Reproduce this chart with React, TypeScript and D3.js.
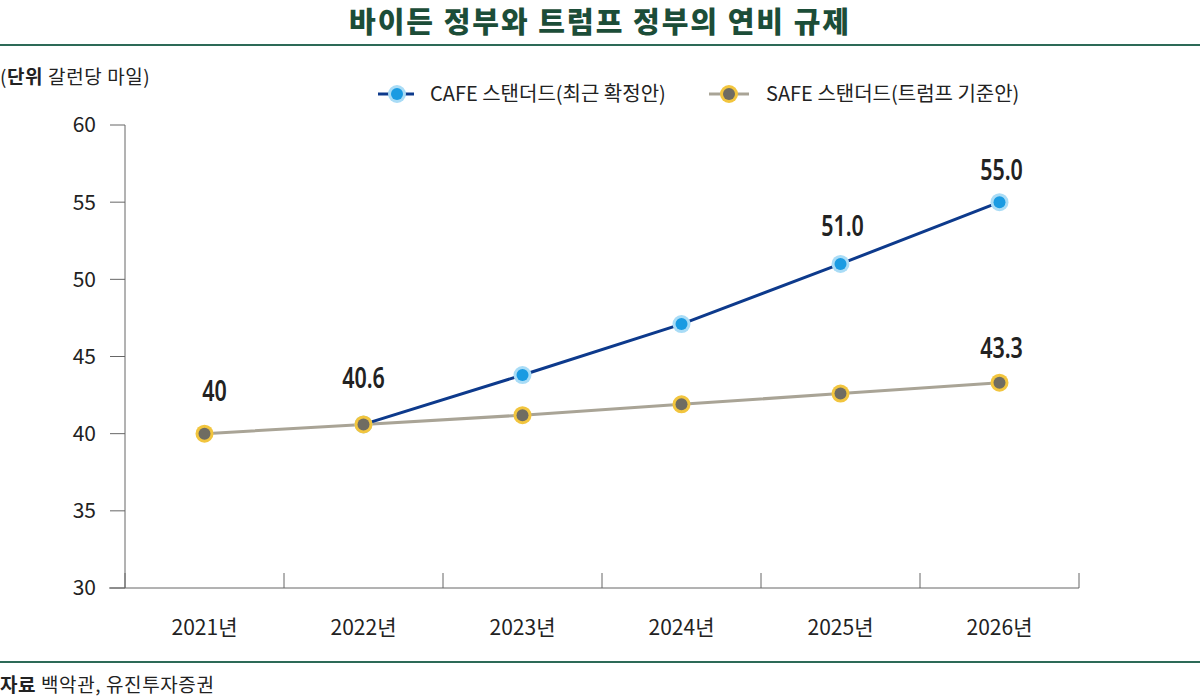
import React from "react";
import * as d3 from "d3";

const years = ["2021년", "2022년", "2023년", "2024년", "2025년", "2026년"];
const cafeValues: (number | null)[] = [null, 40.6, 43.8, 47.1, 51.0, 55.0];
const safeValues: number[] = [40, 40.6, 41.2, 41.9, 42.6, 43.3];
const yTicks = [30, 35, 40, 45, 50, 55, 60];
const labels: { i: number; series: "cafe" | "safe"; text: string; dy: number; dx: number }[] = [
  { i: 0, series: "safe", text: "40", dy: -33, dx: 10 },
  { i: 1, series: "safe", text: "40.6", dy: -36, dx: 0 },
  { i: 4, series: "cafe", text: "51.0", dy: -28, dx: 2 },
  { i: 5, series: "cafe", text: "55.0", dy: -22, dx: 2 },
  { i: 5, series: "safe", text: "43.3", dy: -25, dx: 2 },
];

const W = 1200;
const H = 696;
const KFONT = "'Noto Sans CJK KR', 'Noto Sans', sans-serif";
const NUMFONT = "'Noto Sans', 'DejaVu Sans', sans-serif";

const CAFE_LINE = "#0d3a8c";
const CAFE_FILL = "#1a9be2";
const CAFE_RING = "#a9dcf6";
const SAFE_LINE = "#a9a496";
const SAFE_FILL = "#6f6c62";
const SAFE_RING = "#f2c53e";
const GREEN = "#2d6a57";

export default function App() {
  const x = d3.scaleBand<string>().domain(years).range([125, 1079]).padding(0);
  const y = d3.scaleLinear().domain([30, 60]).range([588, 125]);
  const cx = (i: number) => (x(years[i]) as number) + x.bandwidth() / 2;

  const line = d3
    .line<number | null>()
    .defined((d) => d !== null)
    .x((_, i) => cx(i))
    .y((d) => y(d as number));

  const cafePath = line(cafeValues) || "";
  const safePath = line(safeValues) || "";

  const boundaries = years.map((yr) => x(yr) as number).concat([1079]);

  const marker = (px: number, py: number, fill: string, ring: string, key: string) => (
    <g key={key}>
      <circle cx={px} cy={py} r={9} fill={ring} />
      <circle cx={px} cy={py} r={6} fill={fill} />
    </g>
  );

  return (
    <svg
      width={W}
      height={H}
      viewBox={`0 0 ${W} ${H}`}
      style={{ position: "absolute", left: 0, top: 0, background: "#fff", display: "block" }}
    >
      <rect x={0} y={0} width={W} height={H} fill="#fff" />
      {/* Title */}
      <text
        x={600}
        y={33}
        textAnchor="middle"
        fontFamily={KFONT}
        fontWeight={900}
        fontSize={29}
        letterSpacing={2}
        fill="#1c4d38"
      >
        바이든 정부와 트럼프 정부의 연비 규제
      </text>
      <line x1={0} x2={W} y1={45} y2={45} stroke={GREEN} strokeWidth={2} />

      {/* Unit */}
      <text x={0} y={84} fontFamily={KFONT} fontSize={19} letterSpacing={0.6} fill="#222">
        (<tspan fontWeight={700}>단위</tspan> 갈런당 마일)
      </text>

      {/* Legend */}
      <g>
        <line x1={378} x2={390} y1={94} y2={94} stroke={CAFE_LINE} strokeWidth={3} />
        <line x1={404} x2={414} y1={94} y2={94} stroke={CAFE_LINE} strokeWidth={3} />
        {marker(397, 94, CAFE_FILL, CAFE_RING, "lg1")}
        <text x={430} y={101} fontFamily={KFONT} fontSize={20} fill="#222">
          CAFE 스탠더드(최근 확정안)
        </text>
        <line x1={709} x2={721} y1={94} y2={94} stroke={SAFE_LINE} strokeWidth={3} />
        <line x1={737} x2={749} y1={94} y2={94} stroke={SAFE_LINE} strokeWidth={3} />
        {marker(729, 94, SAFE_FILL, SAFE_RING, "lg2")}
        <text x={766} y={101} fontFamily={KFONT} fontSize={20} fill="#222">
          SAFE 스탠더드(트럼프 기준안)
        </text>
      </g>

      {/* Y axis */}
      <line x1={125} x2={125} y1={y(60)} y2={y(30)} stroke="#666" strokeWidth={1} />
      {yTicks.map((t) => (
        <g key={t}>
          <line x1={110} x2={125} y1={y(t)} y2={y(t)} stroke="#666" strokeWidth={1} />
          <text
            x={96}
            y={y(t)}
            dy="0.35em"
            textAnchor="end"
            fontFamily={KFONT}
            fontSize={21}
            fill="#222"
          >
            {t}
          </text>
        </g>
      ))}

      {/* X axis */}
      <line x1={109} x2={1079} y1={y(30)} y2={y(30)} stroke="#666" strokeWidth={1} />
      {boundaries.map((b, i) => (
        <line key={i} x1={b} x2={b} y1={y(30) - 15} y2={y(30)} stroke="#666" strokeWidth={1} />
      ))}
      {years.map((yr, i) => (
        <text
          key={yr}
          x={cx(i)}
          y={635}
          textAnchor="middle"
          fontFamily={KFONT}
          fontSize={21}
          fill="#222"
        >
          {yr}
        </text>
      ))}

      {/* Lines */}
      <path d={safePath} fill="none" stroke={SAFE_LINE} strokeWidth={3} />
      <path d={cafePath} fill="none" stroke={CAFE_LINE} strokeWidth={3} />

      {/* Markers */}
      {cafeValues.map((v, i) =>
        v === null ? null : marker(cx(i), y(v), CAFE_FILL, CAFE_RING, "c" + i)
      )}
      {safeValues.map((v, i) => marker(cx(i), y(v), SAFE_FILL, SAFE_RING, "s" + i))}

      {/* Value labels */}
      {labels.map((l, k) => {
        const v = l.series === "cafe" ? (cafeValues[l.i] as number) : safeValues[l.i];
        return (
          <text
            key={k}
            transform={`translate(${cx(l.i) + l.dx},${y(v) + l.dy}) scale(0.74,1)`}
            textAnchor="middle"
            fontFamily={NUMFONT}
            fontWeight={600}
            fontSize={29}
            fill="#222"
          >
            {l.text}
          </text>
        );
      })}

      {/* Footer */}
      <line x1={0} x2={W} y1={662} y2={662} stroke={GREEN} strokeWidth={2} />
      <text x={0} y={692} fontFamily={KFONT} fontSize={19} letterSpacing={0.6} fill="#222">
        <tspan fontWeight={700}>자료</tspan> 백악관, 유진투자증권
      </text>
    </svg>
  );
}
